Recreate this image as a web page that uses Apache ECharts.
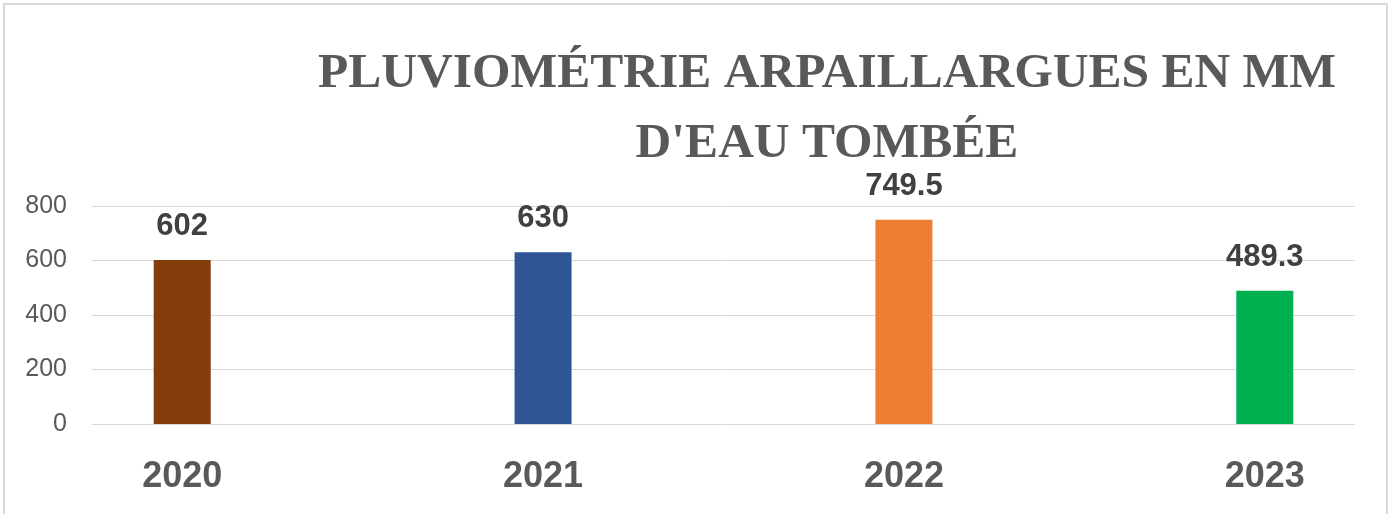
<!DOCTYPE html>
<html>

<head>
    <meta charset="utf-8">
    <script src="https://cdn.jsdelivr.net/npm/echarts@6.0.0/dist/echarts.min.js"></script>
    <style>
        body { margin: 0; background: #fff; }
    </style>
</head>

<body>
    <div id="main" style="width:1395px; height:514px;"></div>
</body>

<script type="text/javascript">
    var years = ['2020', '2021', '2022', '2023'];
    var rainfall = [602, 630, 749.5, 489.3];
    var barColors = ['#843C0C', '#2F5597', '#ED7D31', '#00B050'];

    var barData = years.map(function (y, i) {
        return {
            value: [i, rainfall[i]],
            itemStyle: { color: barColors[i] }
        };
    });

    var chart = echarts.init(document.getElementById('main'));

    option = {
        backgroundColor: '#fff',
        animation: false,
        title: {
            text: "PLUVIOMÉTRIE ARPAILLARGUES EN MM\nD'EAU TOMBÉE",
            left: 822,
            top: 34,
            textAlign: 'center',
            textStyle: {
                fontFamily: 'Liberation Serif',
                fontWeight: 'bold',
                fontSize: 49.5,
                lineHeight: 70,
                color: '#595959',
                textShadowColor: '#b0b0b0',
                textShadowOffsetX: 2,
                textShadowOffsetY: 2,
                textShadowBlur: 0
            }
        },
        graphic: [{
            type: 'rect',
            shape: { x: 4, y: 4, width: 1383, height: 520 },
            style: { fill: 'none', stroke: '#d9d9d9', lineWidth: 2 },
            silent: true
        }],
        grid: {
            left: 92,
            right: 40,
            top: 206,
            bottom: 90
        },
        xAxis: {
            type: 'value',
            min: -0.25,
            max: 3.25,
            splitLine: { show: false },
            axisTick: { show: false },
            axisLine: { show: false },
            axisLabel: {
                customValues: [0, 1, 2, 3],
                formatter: function (v) {
                    return years[Math.round(v)];
                },
                margin: 35,
                fontFamily: 'Liberation Sans',
                fontWeight: 'bold',
                fontSize: 36,
                color: '#595959'
            }
        },
        yAxis: {
            type: 'value',
            min: 0,
            max: 800,
            interval: 200,
            axisLine: { show: false },
            axisTick: { show: false },
            splitLine: { lineStyle: { color: '#d9d9d9', width: 1 } },
            axisLabel: {
                margin: 25,
                fontFamily: 'Liberation Sans',
                fontSize: 25,
                color: '#595959'
            }
        },
        series: [{
            type: 'bar',
            barWidth: 57,
            data: barData,
            label: {
                show: true,
                position: 'top',
                distance: 18,
                formatter: function (p) {
                    return p.value[1];
                },
                fontFamily: 'Liberation Sans',
                fontWeight: 'bold',
                fontSize: 31,
                color: '#404040'
            }
        }]
    };

    chart.setOption(option);
</script>

</html>
